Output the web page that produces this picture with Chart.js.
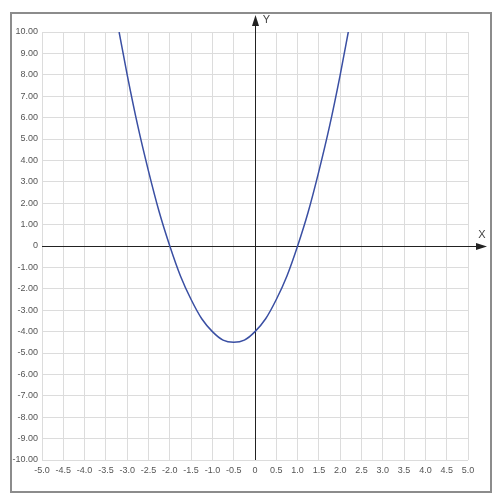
<!DOCTYPE html>
<html lang="en">
<head>
    <meta charset="UTF-8">
    <title>Parabola</title>
    <script src="https://cdn.jsdelivr.net/npm/chart.js@4.4.0/dist/chart.umd.min.js"></script>
    <style>
        html, body { margin: 0; padding: 0; background: #fff; }
        #wrap { position: relative; width: 500px; height: 499px; }
        #frame { position: absolute; left: 10px; top: 12px; width: 478px; height: 477px; border: 2px solid #8c8c8c; }
    </style>
</head>
<body>
<div id="wrap">
    <div id="frame"></div>
    <canvas id="myChart" width="500" height="499"></canvas>
</div>
<script>
    // points
    var xValues = [-3.19, -3.0, -2.75, -2.5, -2.25, -2.0, -1.75, -1.5, -1.25, -1.0, -0.75, -0.5,
                   -0.25, 0.0, 0.25, 0.5, 0.75, 1.0, 1.25, 1.5, 1.75, 2.0, 2.19];
    var yValues = [10.0, 8.0, 5.6, 3.5, 1.6, 0.0, -1.4, -2.5, -3.4, -4.0, -4.4, -4.5,
                   -4.4, -4.0, -3.4, -2.5, -1.4, 0.0, 1.6, 3.5, 5.6, 8.0, 10.0];
    var xAxisLabel = 'X';
    var yAxisLabel = 'Y';

    var points = [];
    for (var i = 0; i < xValues.length; i++) {
        points.push({x: xValues[i], y: yValues[i]});
    }

    // axes through the origin with arrow heads
    var originAxes = {
        id: 'originAxes',
        beforeDatasetsDraw: function (chart) {
            var ctx = chart.ctx;
            var xs = chart.scales.x, ys = chart.scales.y;
            var x0 = Math.round(xs.getPixelForValue(0)) + 0.5;
            var y0 = Math.round(ys.getPixelForValue(0)) + 0.5;
            var area = chart.chartArea;
            ctx.save();
            ctx.strokeStyle = '#222';
            ctx.fillStyle = '#222';
            ctx.lineWidth = 1;
            ctx.beginPath();
            ctx.moveTo(area.left, y0);
            ctx.lineTo(area.right + 14, y0);
            ctx.moveTo(x0, area.bottom);
            ctx.lineTo(x0, area.top - 12);
            ctx.stroke();
            // x arrow
            ctx.beginPath();
            ctx.moveTo(area.right + 19, y0);
            ctx.lineTo(area.right + 8, y0 - 3.5);
            ctx.lineTo(area.right + 8, y0 + 3.5);
            ctx.closePath();
            ctx.fill();
            // y arrow
            ctx.beginPath();
            ctx.moveTo(x0, area.top - 17);
            ctx.lineTo(x0 - 3.5, area.top - 6);
            ctx.lineTo(x0 + 3.5, area.top - 6);
            ctx.closePath();
            ctx.fill();
            ctx.font = '11px "Liberation Sans", Arial, sans-serif';
            ctx.fillStyle = '#444';
            ctx.textAlign = 'center';
            ctx.textBaseline = 'middle';
            ctx.fillText(xAxisLabel, area.right + 14, y0 - 12);
            ctx.fillText(yAxisLabel, x0 + 11, area.top - 12);
            ctx.restore();
        }
    };

    var tickFont = {family: '"Liberation Sans", Arial, sans-serif', size: 9};

    var ctx = document.getElementById('myChart').getContext('2d');
    var myChart = new Chart(ctx, {
        type: 'scatter',
        data: {
            datasets: [{
                data: points,
                showLine: true,
                borderColor: '#3a4fa3',
                backgroundColor: '#3a4fa3',
                borderWidth: 1.5,
                pointRadius: 0,
                cubicInterpolationMode: 'monotone',
                fill: false
            }]
        },
        options: {
            responsive: false,
            animation: false,
            layout: {padding: {left: 10, right: 32, top: 32, bottom: 21}},
            plugins: {legend: {display: false}, tooltip: {enabled: false}},
            scales: {
                x: {
                    type: 'linear',
                    min: -5, max: 5,
                    afterFit: function (scale) { scale.height = 18; },
                    grid: {color: '#dcdcdc', drawTicks: false},
                    border: {display: false},
                    ticks: {
                        stepSize: 0.5, autoSkip: false, maxRotation: 0, padding: 5,
                        color: '#555', font: tickFont,
                        callback: function (v) { return v === 0 ? '0' : v.toFixed(1); }
                    }
                },
                y: {
                    type: 'linear',
                    min: -10, max: 10,
                    afterFit: function (scale) { scale.width = 32; },
                    grid: {color: '#dcdcdc', drawTicks: false},
                    border: {display: false},
                    ticks: {
                        stepSize: 1, autoSkip: false, padding: 4,
                        color: '#555', font: tickFont,
                        callback: function (v) { return v === 0 ? '0' : v.toFixed(2); }
                    }
                }
            }
        },
        plugins: [originAxes]
    });
</script>
</body>
</html>
